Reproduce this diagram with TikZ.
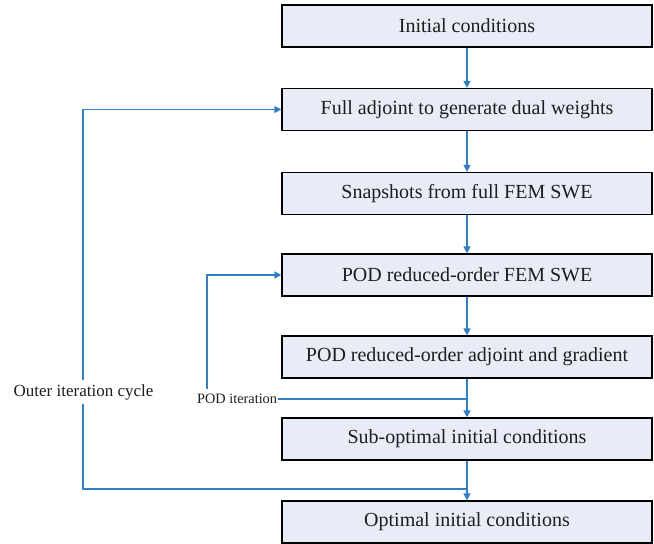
\documentclass[tikz,border=0pt]{standalone}
\usepackage{fontspec}
\setmainfont{Liberation Serif}
\usetikzlibrary{arrows.meta}
\definecolor{boxfill}{HTML}{E7ECF6}
\definecolor{linkblue}{HTML}{2F7FC6}
\definecolor{txt}{HTML}{1E1E1E}
\begin{document}
\begin{tikzpicture}[x=1pt,y=-1pt,
  stepbox/.style={draw=black,line width=1.2pt,fill=boxfill,minimum width=370pt,minimum height=42pt,inner sep=0pt,font=\fontsize{20}{22}\selectfont,text=txt},
  conn/.style={draw=linkblue,line width=1.3pt},
  arr/.style={conn,-{Triangle[length=7pt,width=7pt]}},
  lbl/.style={font=\fontsize{17}{19}\selectfont,text=txt},
  smalllbl/.style={font=\fontsize{14.3}{16}\selectfont,text=txt}]
\useasboundingbox (0,0) rectangle (654,544);
\node[stepbox] (b1) at (467,26) {Initial conditions};
\node[stepbox] (b2) at (467,109.5) {Full adjoint to generate dual weights};
\node[stepbox] (b3) at (467,193.5) {Snapshots from full FEM SWE};
\node[stepbox] (b4) at (467,275) {POD reduced-order FEM SWE};
\node[stepbox] (b5) at (467,357) {POD reduced-order adjoint and gradient};
\node[stepbox] (b6) at (467,439) {Sub-optimal initial conditions};
\node[stepbox] (b7) at (467,522) {Optimal initial conditions};
\draw[arr] (b1) -- (b2);
\draw[arr] (b2) -- (b3);
\draw[arr] (b3) -- (b4);
\draw[arr] (b4) -- (b5);
\draw[arr] (b5) -- (b6);
\draw[arr] (b6) -- (b7);
% POD iteration loop
\node[smalllbl,anchor=west,inner sep=1pt] (pod) at (196,399) {POD iteration};
\coordinate (podtop) at (207,389);
\coordinate (j1) at (467,399);
\draw[conn] (pod.east) -- (j1);
\draw[arr] (podtop) |- (b4.west);
% Outer iteration loop
\node[lbl,inner sep=4pt] (outer) at (83.5,392) {Outer iteration cycle};
\coordinate (j2) at (467,489);
\draw[arr] (outer.north -| 83,0) |- (b2.west);
\draw[conn] (outer.south -| 83,0) |- (j2);
\end{tikzpicture}
\end{document}
